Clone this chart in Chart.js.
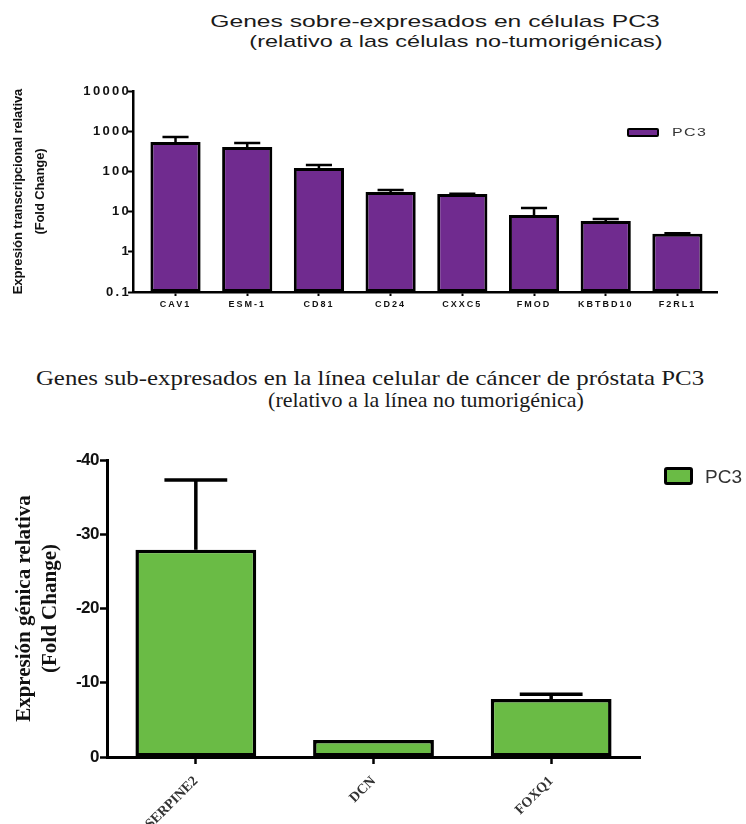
<!DOCTYPE html>
<html>
<head>
<meta charset="utf-8">
<script src="https://cdn.jsdelivr.net/npm/chart.js@4.4.1/dist/chart.umd.min.js"></script>
<style>
  html, body { margin: 0; padding: 0; background: #fff; }
  body { width: 746px; height: 824px; position: relative; overflow: hidden; }
  .panel { position: absolute; left: 0; width: 746px; }
  .line { position: absolute; white-space: nowrap; text-align: center; line-height: 1; }
  .sans { font-family: Arial, "Liberation Sans", sans-serif; color: #1a1a1a; }
  .serif { font-family: "Times New Roman", "Liberation Serif", serif; color: #1a1a1a; }
  .key { position: absolute; box-sizing: border-box; border: 3px solid #000; }
  .keytext { position: absolute; white-space: nowrap; line-height: 1; font-family: Arial, "Liberation Sans", sans-serif; color: #333; transform-origin: left center; }
</style>
</head>
<body>

<div class="line sans" style="left:135px; width:600px; top:13px; font-size:17px; transform:scaleX(1.45);">Genes sobre-expresados en células PC3</div>
<div class="line sans" style="left:156px; width:600px; top:33px; font-size:17px; transform:scaleX(1.38);">(relativo a las células no-tumorigénicas)</div>

<div class="panel" style="top:0; height:320px;"><canvas id="upChart"></canvas></div>
<div id="upKey"></div>

<div class="line serif" style="left:20px; width:700px; top:367px; font-size:22px; transform:scaleX(1.13);">Genes sub-expresados en la línea celular de cáncer de próstata PC3</div>
<div class="line serif" style="left:76px; width:700px; top:389px; font-size:22px;">(relativo a la línea no tumorigénica)</div>

<div class="panel" style="top:420px; height:404px;"><canvas id="downChart"></canvas></div>
<div id="downKey"></div>

<script>
// Over-expressed genes (fold change, log axis)
const upGenes = ['CAV1', 'ESM-1', 'CD81', 'CD24', 'CXXC5', 'FMOD', 'KBTBD10', 'F2RL1'];
const upValues = [538, 405, 122, 30.8, 27.4, 8.2, 5.8, 2.8];
const upErrors = [180, 103, 22, 3.6, 0.4, 4.1, 0.7, 0.1];
const upTickValues = [0.1, 1, 10, 100, 1000, 10000];
const upTickLabels = ['0.1', '1', '10', '100', '1000', '10000'];

// Under-expressed genes (negative fold change)
const downGenes = ['SERPINE2', 'DCN', 'FOXQ1'];
const downValues = [-27.9, -2.3, -7.8];
const downErrors = [9.4, 0, 0.65];
const downTickValues = [-40, -30, -20, -10, 0];

const seriesName = 'PC3';
const purple = '#702b8f';
const green = '#6abb45';

// Draws the upper error whisker of every bar.
const errorBars = {
  id: 'errorBars',
  afterDatasetsDraw(chart, args, opts) {
    const ctx = chart.ctx;
    const yScale = chart.scales.y;
    chart.data.datasets.forEach((ds, di) => {
      const meta = chart.getDatasetMeta(di);
      const errs = ds.errors || [];
      meta.data.forEach((bar, i) => {
        const err = errs[i];
        if (!err) return;
        const raw = ds.data[i];
        const v = (raw !== null && typeof raw === 'object') ? raw.y : raw;
        const tip = v < 0 ? v - err : v + err;
        const yTip = yScale.getPixelForValue(tip);
        const half = bar.width * opts.capRatio / 2;
        ctx.save();
        ctx.strokeStyle = opts.color;
        ctx.lineWidth = opts.width;
        ctx.beginPath();
        ctx.moveTo(bar.x, bar.y);
        ctx.lineTo(bar.x, yTip);
        ctx.moveTo(bar.x - half, yTip);
        ctx.lineTo(bar.x + half, yTip);
        ctx.stroke();
        ctx.restore();
      });
    });
  }
};

// Per-scale letter spacing for tick labels and axis titles.
const letterSpacing = {
  id: 'letterSpacing',
  beforeDraw(chart, args, opts) {
    Object.values(chart.scales).forEach(scale => {
      if (scale.$spaced) return;
      scale.$spaced = true;
      [['drawLabels', 'Labels'], ['drawTitle', 'Title']].forEach(([fn, suffix]) => {
        const orig = scale[fn];
        scale[fn] = function (...a) {
          const sp = opts[scale.id + suffix] || '0px';
          this.ctx.save();
          this.ctx.letterSpacing = sp;
          const r = orig.apply(this, a);
          this.ctx.restore();
          return r;
        };
      });
    });
  }
};

function htmlKey(chart, holderId, box, text) {
  const ds = chart.data.datasets[0];
  const holder = document.getElementById(holderId);
  const k = document.createElement('div');
  k.className = 'key';
  Object.assign(k.style, {
    left: box.left + 'px', top: box.top + 'px', width: box.w + 'px', height: box.h + 'px',
    background: ds.backgroundColor, borderColor: ds.borderColor, borderWidth: box.bw + 'px',
    borderRadius: box.r + 'px'
  });
  const t = document.createElement('div');
  t.className = 'keytext';
  t.textContent = ds.label;
  Object.assign(t.style, {
    left: text.left + 'px', top: text.top + 'px', fontSize: text.size + 'px',
    letterSpacing: text.spacing + 'px', transform: 'scaleX(' + text.sx + ')'
  });
  holder.appendChild(k);
  holder.appendChild(t);
}

const black = '#000';

const upChart = new Chart(document.getElementById('upChart'), {
  type: 'bar',
  data: {
    datasets: [{
      label: seriesName,
      data: upGenes.map((g, i) => ({ x: i, y: upValues[i] })),
      errors: upErrors,
      backgroundColor: purple,
      borderColor: black,
      borderWidth: 3,
      borderSkipped: false,
      barPercentage: 0.7,
      categoryPercentage: 1
    }]
  },
  plugins: [errorBars, letterSpacing],
  options: {
    responsive: true,
    maintainAspectRatio: false,
    animation: false,
    events: [],
    layout: { padding: { left: 0, top: 91, right: 29, bottom: 0 } },
    scales: {
      x: {
        type: 'linear',
        min: -0.593,
        max: 7.552,
        offset: false,
        afterFit: s => { s.height = 28; },
        afterBuildTicks: s => { s.ticks = upGenes.map((g, i) => ({ value: i })); },
        grid: { display: true, offset: false, drawOnChartArea: false, drawTicks: true, tickLength: 4, tickWidth: 2, tickColor: black, color: black },
        border: { display: true, color: black, width: 2.5 },
        ticks: {
          autoSkip: false, maxRotation: 0, minRotation: 0, includeBounds: false,
          padding: 3, color: '#111',
          font: { family: 'Arial, "Liberation Sans", sans-serif', size: 9, weight: 'bold' },
          callback: (v, i) => upGenes[i]
        }
      },
      y: {
        type: 'logarithmic',
        min: 0.1,
        max: 10000,
        afterFit: s => { s.width = 133; },
        afterBuildTicks: s => { s.ticks = upTickValues.map(v => ({ value: v })); },
        grid: { display: true, drawOnChartArea: false, drawTicks: true, tickLength: 5, tickWidth: 2, tickColor: black, color: black },
        border: { display: true, color: black, width: 2.5 },
        ticks: {
          autoSkip: false, padding: -3, color: '#111',
          font: { family: 'Arial, "Liberation Sans", sans-serif', size: 13, weight: 'bold' },
          callback: (v, i) => upTickLabels[i]
        },
        title: {
          display: true,
          text: ['Expresión transcripcional relativa', '(Fold Change)'],
          color: '#111',
          padding: { top: 7, bottom: 0 },
          font: { family: 'Arial, "Liberation Sans", sans-serif', size: 13, weight: 'bold', lineHeight: 1.7 }
        }
      }
    },
    plugins: {
      legend: { display: false },
      tooltip: { enabled: false },
      errorBars: { color: black, width: 2.5, capRatio: 0.52 },
      letterSpacing: { xLabels: '2px', yLabels: '2.3px', yTitle: '-0.1px' }
    }
  }
});

const downChart = new Chart(document.getElementById('downChart'), {
  type: 'bar',
  data: {
    labels: downGenes,
    datasets: [{
      label: seriesName,
      data: downValues,
      errors: downErrors,
      backgroundColor: green,
      borderColor: black,
      borderWidth: 3.5,
      borderSkipped: false,
      barPercentage: 0.68,
      categoryPercentage: 1
    }]
  },
  plugins: [errorBars, letterSpacing],
  options: {
    responsive: true,
    maintainAspectRatio: false,
    animation: false,
    events: [],
    layout: { padding: { left: 0, top: 40, right: 106, bottom: 0 } },
    scales: {
      x: {
        afterFit: s => { s.height = 67; },
        grid: { display: true, offset: false, drawOnChartArea: false, drawTicks: true, tickLength: 7, tickWidth: 2.5, tickColor: black, color: black },
        border: { display: true, color: black, width: 3 },
        ticks: {
          autoSkip: false, minRotation: 45, maxRotation: 45, padding: 9, color: '#333',
          font: { family: '"Times New Roman", "Liberation Serif", serif', size: 14, weight: 'bold' }
        }
      },
      y: {
        min: -40,
        max: 0,
        reverse: true,
        afterFit: s => { s.width = 107; },
        afterBuildTicks: s => { s.ticks = downTickValues.map(v => ({ value: v })); },
        grid: { display: true, drawOnChartArea: false, drawTicks: true, tickLength: 7, tickWidth: 2.5, tickColor: black, color: black },
        border: { display: true, color: black, width: 3 },
        ticks: {
          padding: 1, color: '#111',
          font: { family: 'Arial, "Liberation Sans", sans-serif', size: 17, weight: 'bold' }
        },
        title: {
          display: true,
          text: ['Expresión génica relativa', '(Fold Change)'],
          color: '#111',
          padding: { top: 11, bottom: 0 },
          font: { family: '"Times New Roman", "Liberation Serif", serif', size: 21, weight: 'bold', lineHeight: 1.25 }
        }
      }
    },
    plugins: {
      legend: { display: false },
      tooltip: { enabled: false },
      errorBars: { color: black, width: 3.5, capRatio: 0.52 },
      letterSpacing: { yLabels: '-0.5px' }
    }
  }
});

htmlKey(upChart, 'upKey',
  { left: 627, top: 128, w: 32, h: 9, bw: 2.5, r: 2 },
  { left: 672, top: 127, size: 11, spacing: 1, sx: 1.45 });
htmlKey(downChart, 'downKey',
  { left: 664, top: 467, w: 29, h: 18, bw: 3, r: 3 },
  { left: 705, top: 466.5, size: 19, spacing: 0, sx: 1 });
</script>
</body>
</html>
